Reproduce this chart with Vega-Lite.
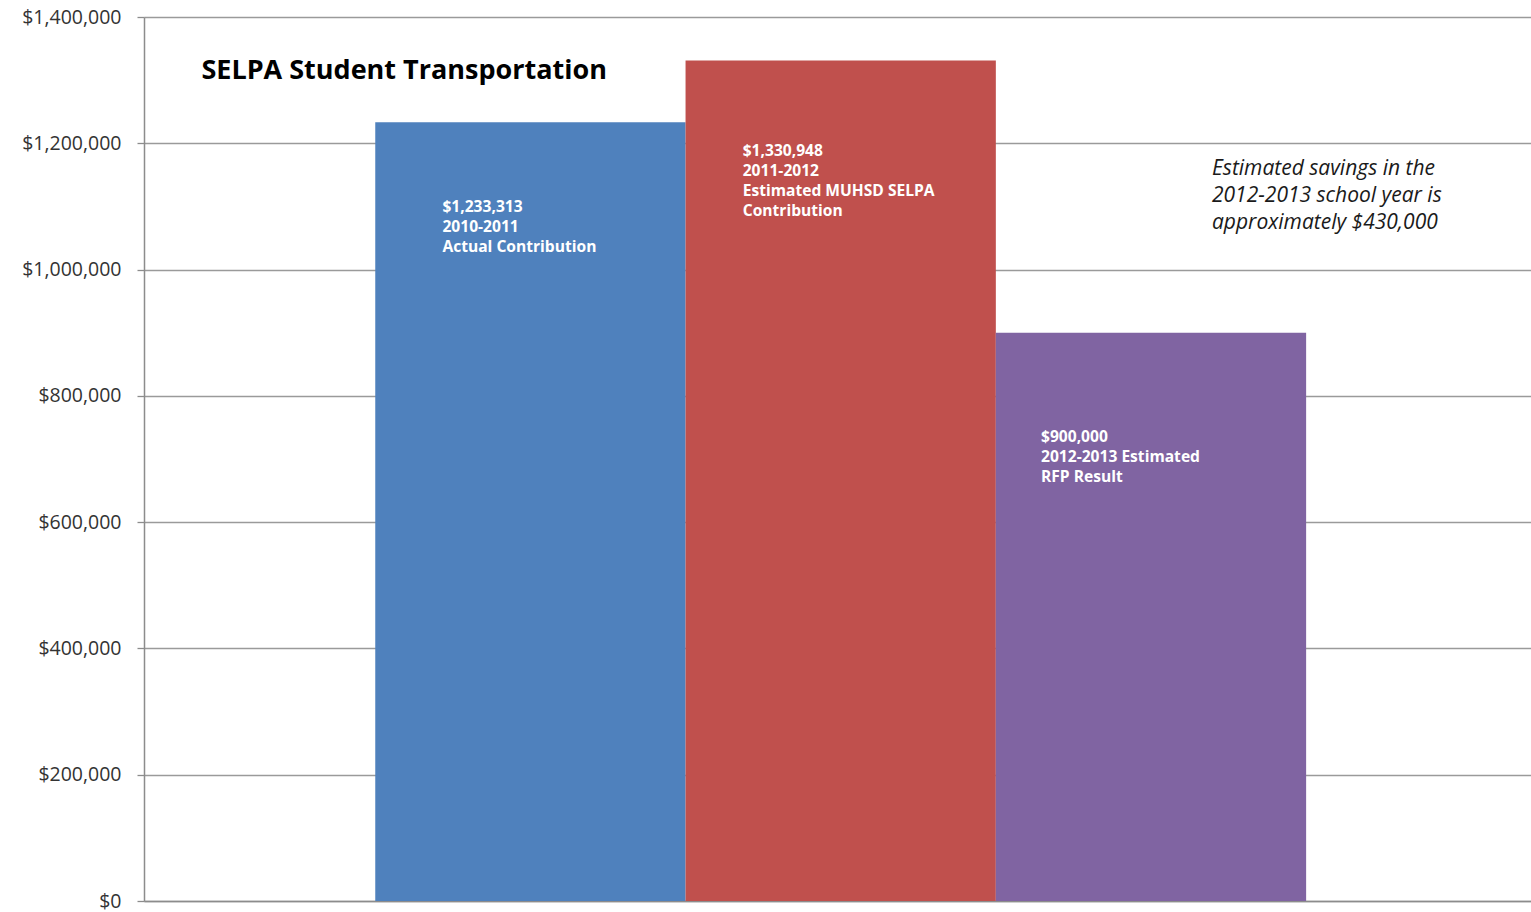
{
  "$schema": "https://vega.github.io/schema/vega-lite/v6.json",
  "width": 1387,
  "height": 884,
  "autosize": {"type": "none"},
  "padding": {"left": 144, "top": 17, "right": 0, "bottom": 11},
  "background": "white",
  "config": {"view": {"stroke": null}, "font": "Open Sans"},
  "data": {
    "values": [
      {"period": "2010-2011", "value": 1233313, "label": "$1,233,313\n2010-2011\nActual Contribution"},
      {"period": "2011-2012", "value": 1330948, "label": "$1,330,948\n2011-2012\nEstimated MUHSD SELPA\nContribution"},
      {"period": "2012-2013", "value": 900000, "label": "$900,000\n2012-2013 Estimated\nRFP Result"}
    ]
  },
  "encoding": {
    "x": {
      "field": "period",
      "type": "nominal",
      "sort": null,
      "scale": {"domain": ["2010-2011", "2011-2012", "2012-2013"], "paddingInner": 0, "paddingOuter": 0.735, "align": 0.507},
      "axis": {"labels": false, "ticks": false, "title": null, "domainColor": "#8c8c8c", "domainWidth": 1.5}
    },
    "y": {
      "field": "value",
      "type": "quantitative",
      "scale": {"domain": [0, 1400000], "nice": false},
      "axis": {
        "values": [0, 200000, 400000, 600000, 800000, 1000000, 1200000, 1400000],
        "format": "$,.0f",
        "title": null,
        "grid": true,
        "gridColor": "#9a9a9a",
        "gridWidth": 1.3,
        "domainColor": "#8c8c8c",
        "domainWidth": 1.5,
        "tickColor": "#8c8c8c",
        "tickSize": 7,
        "tickWidth": 1.3,
        "labelFont": "Open Sans",
        "labelFontSize": 19.5,
        "labelColor": "#333333",
        "labelPadding": 16
      }
    }
  },
  "layer": [
    {
      "mark": {"type": "bar"},
      "encoding": {
        "color": {
          "field": "period",
          "type": "nominal",
          "scale": {"domain": ["2010-2011", "2011-2012", "2012-2013"], "range": ["#4F81BD", "#C0504D", "#8064A2"]},
          "legend": null
        }
      }
    },
    {
      "transform": [{"filter": "datum.period == '2010-2011'"}],
      "mark": {"type": "text", "align": "left", "baseline": "alphabetic", "dx": -88, "dy": 90, "color": "white", "font": "Open Sans", "fontWeight": "bold", "fontSize": 15.6, "lineHeight": 20, "lineBreak": "\n"},
      "encoding": {"text": {"field": "label", "type": "nominal"}}
    },
    {
      "transform": [{"filter": "datum.period == '2011-2012'"}],
      "mark": {"type": "text", "align": "left", "baseline": "alphabetic", "dx": -98, "dy": 95, "color": "white", "font": "Open Sans", "fontWeight": "bold", "fontSize": 15.6, "lineHeight": 20, "lineBreak": "\n"},
      "encoding": {"text": {"field": "label", "type": "nominal"}}
    },
    {
      "transform": [{"filter": "datum.period == '2012-2013'"}],
      "mark": {"type": "text", "align": "left", "baseline": "alphabetic", "dx": -110, "dy": 109, "color": "white", "font": "Open Sans", "fontWeight": "bold", "fontSize": 15.6, "lineHeight": 20, "lineBreak": "\n"},
      "encoding": {"text": {"field": "label", "type": "nominal"}}
    },
    {
      "transform": [{"filter": "datum.period == '2010-2011'"}],
      "mark": {"type": "text", "align": "left", "baseline": "alphabetic", "dx": -329, "color": "#000000", "font": "Open Sans", "fontWeight": "bold", "fontSize": 27, "text": "SELPA Student Transportation"},
      "encoding": {"y": {"datum": 1302000, "type": "quantitative"}}
    },
    {
      "transform": [{"filter": "datum.period == '2012-2013'"}],
      "mark": {"type": "text", "align": "left", "baseline": "alphabetic", "dx": 61, "color": "#1a1a1a", "font": "Open Sans", "fontStyle": "italic", "fontSize": 21, "lineHeight": 27, "lineBreak": "\n", "text": "Estimated savings in the\n2012-2013 school year is\napproximately $430,000"},
      "encoding": {"y": {"datum": 1150000, "type": "quantitative"}}
    }
  ]
}
